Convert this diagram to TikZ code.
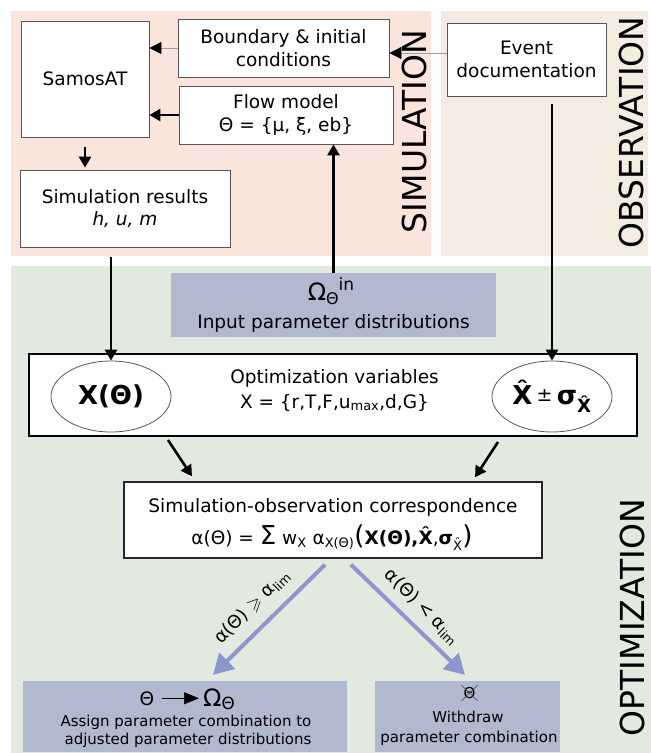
\documentclass[tikz,border=0pt]{standalone}
\usepackage{fontspec}
\setmainfont{DejaVu Sans}
\usepackage{amssymb}
\usetikzlibrary{arrows.meta,calc,shapes.geometric}
\definecolor{simbg}{RGB}{250,229,220}
\definecolor{obsbg}{RGB}{242,236,225}
\definecolor{optbg}{RGB}{226,234,223}
\definecolor{distbg}{RGB}{177,185,208}
\definecolor{bluearr}{RGB}{142,151,205}
\definecolor{boxline}{RGB}{85,85,85}
\tikzset{
  ftxt/.style={font=\fontsize{18.5}{22.5}\selectfont},
  fsmall/.style={font=\fontsize{15}{18}\selectfont},
  box/.style={draw=boxline, line width=0.8pt, fill=white, inner sep=0pt, align=center, ftxt},
  distbox/.style={fill=distbg, inner sep=0pt},
  ellbox/.style={ellipse, draw=boxline, line width=0.8pt, fill=white, inner sep=0pt, minimum width=120pt, minimum height=71pt},
  blackarrow/.style={line width=2.6pt, -{Triangle[width=12pt,length=11pt]}},
  thinarrow/.style={draw=gray!75, line width=0.8pt, -{Triangle[width=12pt,length=12pt,color=black]}},
  bluearrow/.style={draw=bluearr, line width=4pt, -{Triangle[width=22pt,length=20pt]}},
  regionlabel/.style={font=\fontsize{33}{33}\selectfont, rotate=90, inner sep=0pt},
  txt/.style={anchor=base, inner sep=0pt, ftxt},
  stxt/.style={anchor=base, inner sep=0pt, fsmall},
  arrlabel/.style={inner sep=0pt, font=\fontsize{18}{18}\selectfont},
}
\begin{document}
\begin{tikzpicture}[x=1pt,y=-1pt]
\useasboundingbox (0,0) rectangle (651,753);
\fill[white] (0,0) rectangle (651,753);
% regions
\fill[simbg] (11,11) rectangle (431,256);
\fill[obsbg] (441,11) rectangle (648,256);
\fill[optbg] (11,266) rectangle (651,753);
\node[regionlabel] (simlbl) at (414,131.5) {SIMULATION};
\node[regionlabel] (obslbl) at (631,132.5) {OBSERVATION};
\node[regionlabel] (optlbl) at (632,617.5) {OPTIMIZATION};
% simulation boxes
\node[box, minimum width=128pt, minimum height=116pt] (samos) at (85,79) {SamosAT};
\node[box, minimum width=211pt, minimum height=58pt] (bound) at (283.5,48) {Boundary \& initial\\conditions};
\node[box, minimum width=214pt, minimum height=58pt] (flow) at (286,115) {Flow model\\Θ = \{μ, ξ, eb\}};
\node[box, minimum width=210pt, minimum height=77pt] (simres) at (125,208.5) {Simulation results\\\textit{h, u, m}};
% observation
\node[box, minimum width=159pt, minimum height=73pt] (event) at (526.5,59.5) {Event\\documentation};
% input distributions
\node[distbox, minimum width=325pt, minimum height=64pt] (input) at (333.5,305) {};
\node[anchor=base, inner sep=0pt] (omin) at (331,300) {{\fontsize{24}{24}\selectfont Ω}\raisebox{-4pt}{\fontsize{16}{16}\selectfont Θ}\raisebox{10pt}{\fontsize{17}{17}\selectfont in}};
\node[txt] (intxt) at (333.5,328) {Input parameter distributions};
% optimization variables
\node[draw=black, line width=2pt, fill=white, inner sep=0pt, minimum width=608pt, minimum height=82pt] (optvar) at (333,395) {};
\node[txt] (ovt1) at (334.5,383) {Optimization variables};
\node[txt] (ovt2) at (334.5,408) {X = \{r,T,F,u\textsubscript{max},d,G\}};
\node[ellbox] (xel) at (111,396.5) {\fontsize{26}{26}\selectfont\bfseries X(Θ)};
\node[ellbox] (xhat) at (552,396.5) {\fontsize{26}{26}\selectfont\bfseries \^{X}\,{\mdseries\fontsize{19}{19}\selectfont\raisebox{3pt}{±}}\,σ\textsubscript{\^{X}}};
% correspondence
\node[draw=black!85, line width=1.4pt, fill=white, inner sep=0pt, minimum width=418pt, minimum height=76pt] (simobs) at (333,520) {};
\node[txt] (sot1) at (333,512) {Simulation-observation correspondence};
\node[txt] (sot2) at (332,544) {α(Θ) = {\fontsize{26}{26}\selectfont Σ} w\textsubscript{X} α\textsubscript{X(Θ)}{\fontsize{26}{26}\selectfont (}\textbf{X(Θ),\^{X}},\textbf{σ}\textsubscript{\^{X}}{\fontsize{26}{26}\selectfont )}};
% results
\node[distbox, minimum width=324pt, minimum height=71pt] (assign) at (185,716.5) {};
\node[txt] (asth) at (147,705) {Θ};
\node[anchor=base west, inner sep=0pt, font=\fontsize{24}{24}\selectfont] (asom) at (203,706) {Ω\textsubscript{Θ}};
\node[stxt] (ast2) at (186,726) {Assign parameter combination to};
\node[stxt] (ast3) at (188,744) {adjusted parameter distributions};
\node[distbox, minimum width=185pt, minimum height=71pt] (withdraw) at (467.5,716.5) {};
\node[fsmall, inner sep=2pt] (wth) at (469.5,693) {Θ};
\node[stxt] (wt1) at (468,722) {Withdraw};
\node[stxt] (wt2) at (469,742) {parameter combination};
% connectors
\draw[thinarrow] ([yshift=6.5pt]event.west) -- ([yshift=6.5pt]event.west -| bound.east);
\draw[thinarrow] (bound.west) -- (bound.west -| samos.east);
\draw[blackarrow] (flow.west) -- (flow.west -| samos.east);
\draw[blackarrow] ([yshift=-10pt]samos.south) -- ([yshift=2pt]simres.north -| samos.south);
\draw[blackarrow] ([yshift=-10pt]simres.south -| xel.north) -- (xel.north);
\draw[blackarrow] (input.north) -- (input.north |- flow.south);
\draw[blackarrow] ([yshift=-8pt]event.south -| xhat.north) -- (xhat.north);
\draw[blackarrow] ($(optvar.south)+(-165,3)$) -- ($(simobs.north)+(-141,-5)$);
\draw[blackarrow] ($(optvar.south)+(165,5)$) -- ($(simobs.north)+(142,-4)$);
\draw[bluearrow] ($(simobs.south)+(-8,6)$) -- ($(assign.north)+(28,-6)$);
\draw[bluearrow] ($(simobs.south)+(18,6)$) -- ($(withdraw.north)+(-2.5,-6)$);
\node[arrlabel, rotate=45] (lblL) at (252,607) {α(Θ) $\geqslant$ α\textsubscript{lim}};
\node[arrlabel, rotate=-45] (lblR) at (422,607) {α(Θ) < α\textsubscript{lim}};
\draw[line width=0.7pt, -{Triangle[width=12pt,length=15pt]}] ([xshift=8pt]asth.east) -- ([xshift=-4pt]asth.east -| asom.west);
\draw[black!70, line width=0.6pt] (wth.north west) -- (wth.south east) (wth.north east) -- (wth.south west);
\end{tikzpicture}
\end{document}
